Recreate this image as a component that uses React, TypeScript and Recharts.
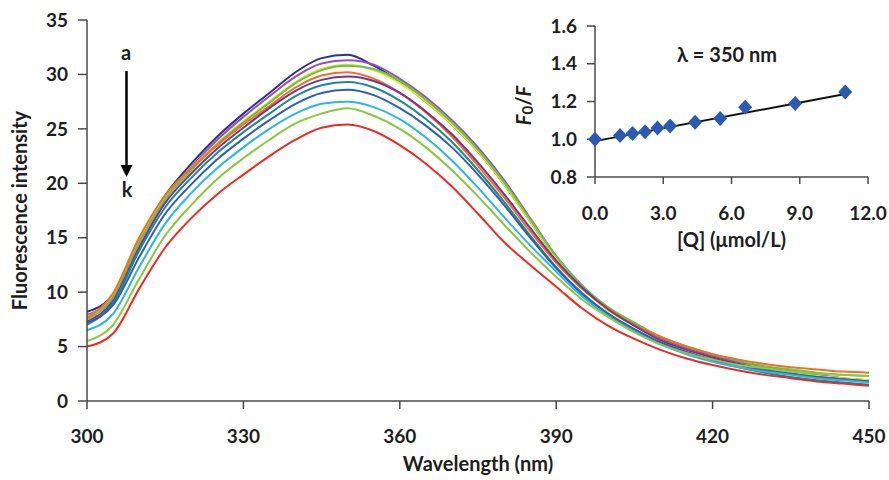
import { LineChart, Line, XAxis, YAxis } from "recharts";

// emission spectra, 300-450 nm, curves a (no quencher) to k
const WAVELENGTH = [
  300, 305, 310, 315, 320, 325, 330, 335, 340, 345, 350, 355, 360, 365, 370, 375,
  380, 385, 390, 395, 400, 405, 410, 415, 420, 425, 430, 435, 440, 445, 450,
];
const SPEC_A = [
  8.2, 9.8, 14.8, 18.9, 21.8, 24.3, 26.4, 28.3, 30.2, 31.5, 31.8, 30.8, 29.3, 27.5, 25.4, 22.9,
  19.9, 16.5, 13.1, 10.4, 8.4, 7.0, 5.7, 4.8, 4.1, 3.5, 3.0, 2.6, 2.3, 2.0, 1.8,
];
const SPEC_B = [
  7.9, 9.6, 14.6, 18.6, 21.5, 24.0, 26.1, 28.0, 29.8, 31.0, 31.3, 30.9, 29.6, 27.9, 25.8, 23.3,
  20.3, 16.8, 13.3, 10.6, 8.5, 7.1, 5.8, 4.9, 4.2, 3.6, 3.1, 2.7, 2.4, 2.1, 1.9,
];
const SPEC_C = [
  7.7, 9.8, 14.9, 18.8, 21.4, 23.7, 25.7, 27.5, 29.3, 30.5, 30.9, 30.4, 29.2, 27.5, 25.4, 22.9,
  19.9, 16.5, 13.1, 10.4, 8.3, 6.9, 5.6, 4.7, 4.0, 3.4, 3.0, 2.6, 2.3, 2.1, 1.9,
];
const SPEC_D = [
  7.5, 9.5, 14.5, 18.5, 21.2, 23.6, 25.6, 27.4, 29.2, 30.4, 30.8, 30.5, 29.4, 27.7, 25.6, 23.1,
  20.1, 16.7, 13.3, 10.6, 8.6, 7.2, 5.9, 5.0, 4.3, 3.7, 3.2, 2.9, 2.6, 2.4, 2.3,
];
const SPEC_E = [
  7.6, 9.9, 15.0, 18.9, 21.4, 23.5, 25.4, 27.1, 28.8, 29.9, 30.2, 29.6, 28.3, 26.5, 24.3, 21.6,
  18.7, 15.6, 12.7, 10.3, 8.5, 7.0, 5.9, 5.0, 4.3, 3.8, 3.4, 3.1, 2.9, 2.7, 2.6,
];
const SPEC_F = [
  7.3, 9.2, 14.1, 18.2, 20.9, 23.2, 25.1, 26.9, 28.5, 29.5, 29.8, 29.4, 28.3, 26.6, 24.5, 21.9,
  19.0, 15.9, 12.9, 10.4, 8.4, 6.9, 5.6, 4.7, 4.0, 3.4, 2.9, 2.5, 2.2, 2.0, 1.8,
];
const SPEC_G = [
  7.0, 9.0, 13.8, 17.8, 20.5, 22.8, 24.7, 26.4, 28.0, 29.0, 29.3, 28.8, 27.6, 25.9, 23.8, 21.2,
  18.3, 15.2, 12.3, 9.9, 8.0, 6.5, 5.3, 4.4, 3.7, 3.1, 2.6, 2.2, 1.9, 1.7, 1.5,
];
const SPEC_H = [
  7.2, 8.8, 13.2, 17.2, 19.9, 22.2, 24.1, 25.8, 27.3, 28.3, 28.6, 28.1, 26.9, 25.3, 23.3, 20.8,
  18.0, 15.0, 12.2, 9.8, 8.0, 6.6, 5.4, 4.5, 3.8, 3.3, 2.8, 2.5, 2.2, 2.0, 1.8,
];
const SPEC_I = [
  6.5, 8.0, 12.3, 16.3, 19.1, 21.4, 23.3, 25.0, 26.4, 27.3, 27.5, 27.0, 25.9, 24.2, 22.1, 19.6,
  16.9, 14.3, 11.9, 9.6, 7.8, 6.4, 5.2, 4.3, 3.6, 3.1, 2.7, 2.4, 2.1, 1.9, 1.7,
];
const SPEC_J = [
  5.5, 7.0, 11.2, 15.2, 18.0, 20.4, 22.3, 24.0, 25.5, 26.4, 26.9, 26.2, 25.0, 23.3, 21.2, 18.8,
  16.2, 13.7, 11.4, 9.3, 7.7, 6.3, 5.2, 4.4, 3.8, 3.3, 3.0, 2.7, 2.5, 2.4, 2.3,
];
const SPEC_K = [
  5.0, 6.2, 10.3, 14.1, 16.8, 19.0, 20.8, 22.5, 24.0, 25.1, 25.4, 24.8, 23.5, 21.8, 19.7, 17.2,
  14.6, 12.5, 10.5, 8.5, 6.9, 5.7, 4.7, 3.9, 3.3, 2.8, 2.4, 2.1, 1.8, 1.6, 1.4,
];
const CURVE_KEYS = ["a", "b", "c", "d", "e", "f", "g", "h", "i", "j", "k"];
const CURVE_VALUES = [
  SPEC_A, SPEC_B, SPEC_C, SPEC_D, SPEC_E, SPEC_F, SPEC_G, SPEC_H, SPEC_I, SPEC_J, SPEC_K,
];
const WL_TICKS = [300, 330, 360, 390, 420, 450];
const INTENSITY_TICKS = [0, 5, 10, 15, 20, 25, 30, 35];

// Stern-Volmer inset at 350 nm
const QUENCHER = [0, 1.1, 1.65, 2.2, 2.75, 3.3, 4.4, 5.5, 6.6, 8.8, 11.0];
const F0_F = [1.0, 1.02, 1.03, 1.04, 1.06, 1.07, 1.09, 1.11, 1.17, 1.19, 1.25];
const FIT_X = [0, 11.0];
const FIT_Y = [0.99, 1.24];
const Q_TICKS = [0, 3, 6, 9, 12];
const RATIO_TICKS = [0.8, 1.0, 1.2, 1.4, 1.6];

const LINE_COLORS = [
  "#2e3192", "#9a4fb8", "#e4e41c", "#6cc04a", "#f36f21", "#7b3294",
  "#1c8a8c", "#2f5fb3", "#2fb4e9", "#8dc63f", "#ee2a24",
];

const FONT = "Lato, 'Open Sans', sans-serif";
const TEXT = "#1e1e1e";
const AXIS = "#4a4a4a";

const tickStyle = { fontSize: 19, fontFamily: FONT, fontWeight: 700, fill: TEXT };

const spectra = WAVELENGTH.map((wl, i) => {
  const row: Record<string, number> = { wl };
  CURVE_KEYS.forEach((key, c) => {
    row[key] = CURVE_VALUES[c][i];
  });
  return row;
});

const insetPoints = QUENCHER.map((q, i) => ({ q, ratio: F0_F[i] }));
const fitLine = FIT_X.map((q, i) => ({ q, ratio: FIT_Y[i] }));

const Diamond = (props: any) => {
  const { cx, cy } = props;
  if (cx == null || cy == null) return null;
  return (
    <path
      d={`M${cx},${cy - 7.5}L${cx + 7},${cy}L${cx},${cy + 7.5}L${cx - 7},${cy}Z`}
      fill="#2a5bb0"
    />
  );
};

const InsetYTitle = (props: any) => {
  const { viewBox } = props;
  const x = viewBox.x + 43;
  const y = viewBox.y + viewBox.height / 2 + 4;
  return (
    <text
      x={x}
      y={y}
      transform={`rotate(-90, ${x}, ${y})`}
      textAnchor="middle"
      dominantBaseline="central"
      fontSize={20}
      fontFamily={FONT}
      fontWeight={700}
      fill={TEXT}
    >
      <tspan fontStyle="italic">F</tspan>
      <tspan fontSize={15} dy={4}>0</tspan>
      <tspan dy={-4}>/</tspan>
      <tspan fontStyle="italic">F</tspan>
    </text>
  );
};

export default function App() {
  return (
    <div style={{ position: "absolute", left: 0, top: 0, width: 889, height: 480, background: "#fff" }}>
      <LineChart
        width={889}
        height={480}
        data={spectra}
        margin={{ top: 20, right: 20, bottom: 0, left: 0 }}
      >
        <XAxis
          dataKey="wl"
          type="number"
          domain={[300, 450]}
          ticks={WL_TICKS}
          height={79}
          tickSize={8}
          tickMargin={21}
          tick={tickStyle}
          axisLine={{ stroke: AXIS, strokeWidth: 1.5 }}
          tickLine={{ stroke: AXIS, strokeWidth: 1.5 }}
          label={{
            value: "Wavelength (nm)",
            position: "insideBottom",
            offset: 9,
            style: { fontSize: 20, fontFamily: FONT, fontWeight: 700, fill: TEXT },
          }}
        />
        <YAxis
          type="number"
          domain={[0, 35]}
          ticks={INTENSITY_TICKS}
          width={87}
          tickSize={9}
          tickMargin={10}
          tick={tickStyle}
          axisLine={{ stroke: AXIS, strokeWidth: 1.5 }}
          tickLine={{ stroke: AXIS, strokeWidth: 1.5 }}
          label={{
            value: "Fluorescence intensity",
            angle: -90,
            position: "insideLeft",
            offset: 20,
            style: { textAnchor: "middle", fontSize: 20, fontFamily: FONT, fontWeight: 700, fill: TEXT },
          }}
        />
        {CURVE_KEYS.map((key, c) => (
          <Line
            key={key}
            type="monotone"
            dataKey={key}
            stroke={LINE_COLORS[c]}
            strokeWidth={2}
            dot={false}
            isAnimationActive={false}
          />
        ))}
      </LineChart>

      <svg
        width={889}
        height={480}
        style={{ position: "absolute", left: 0, top: 0, pointerEvents: "none" }}
      >
        <g fontFamily={FONT} fontWeight={700} fill={TEXT} fontSize={20} textAnchor="middle">
          <text x={126} y={60}>a</text>
          <text x={127} y={197}>k</text>
        </g>
        <line x1={126.5} y1={71} x2={126.5} y2={167} stroke="#000" strokeWidth={2.5} />
        <path d="M120.5,165L132.5,165L126.5,177Z" fill="#000" />
      </svg>

      <div style={{ position: "absolute", left: 480, top: 0 }}>
        <LineChart
          width={409}
          height={260}
          margin={{ top: 26, right: 21, bottom: 0, left: 0 }}
        >
          <XAxis
            dataKey="q"
            type="number"
            domain={[0, 12]}
            ticks={Q_TICKS}
            tickFormatter={(v: number) => v.toFixed(1)}
            height={83}
            tickSize={7}
            tickMargin={23}
            tick={tickStyle}
            axisLine={{ stroke: AXIS, strokeWidth: 1.5 }}
            tickLine={{ stroke: AXIS, strokeWidth: 1.5 }}
            allowDuplicatedCategory={false}
            label={{
              value: "[Q] (μmol/L)",
              position: "insideBottom",
              offset: 13,
              style: { fontSize: 20, fontFamily: FONT, fontWeight: 700, fill: TEXT },
            }}
          />
          <YAxis
            type="number"
            domain={[0.8, 1.6]}
            ticks={RATIO_TICKS}
            tickFormatter={(v: number) => v.toFixed(1)}
            width={115}
            tickSize={8}
            tickMargin={10}
            tick={tickStyle}
            axisLine={{ stroke: AXIS, strokeWidth: 1.5 }}
            tickLine={{ stroke: AXIS, strokeWidth: 1.5 }}
            label={<InsetYTitle />}
          />
          <Line
            data={insetPoints}
            dataKey="ratio"
            stroke="none"
            dot={<Diamond />}
            isAnimationActive={false}
          />
          <Line
            data={fitLine}
            dataKey="ratio"
            stroke="#111"
            strokeWidth={2}
            dot={false}
            isAnimationActive={false}
          />
        </LineChart>
        <svg
          width={409}
          height={260}
          style={{ position: "absolute", left: 0, top: 0, pointerEvents: "none" }}
        >
          <text
            x={247}
            y={62}
            textAnchor="middle"
            fontFamily={FONT}
            fontWeight={700}
            fontSize={20}
            fill={TEXT}
          >
            λ = 350 nm
          </text>
        </svg>
      </div>
    </div>
  );
}
